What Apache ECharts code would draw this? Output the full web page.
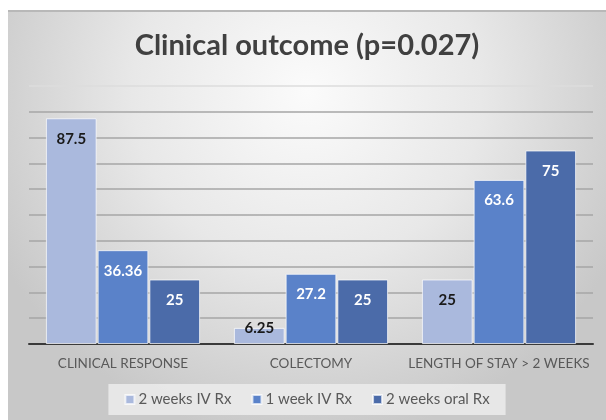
<!DOCTYPE html>
<html>
<head>
<meta charset="utf-8">
<script src="https://cdn.jsdelivr.net/npm/echarts@6/dist/echarts.min.js"></script>
<style>
  html, body { margin: 0; padding: 0; background: #ffffff; }
  #main { position: absolute; left: 8px; top: 10px; width: 598px; height: 410px; }
</style>
</head>
<body>
<div id="main"></div>
<script>
// data
const categories = ['CLINICAL RESPONSE', 'COLECTOMY', 'LENGTH OF STAY > 2 WEEKS'];
const twoWeeksIV = [87.5, 6.25, 25];
const oneWeekIV = [36.36, 27.2, 63.6];
const twoWeeksOral = [25, 25, 75];
const seriesNames = ['2 weeks IV Rx', '1 week IV Rx', '2 weeks oral Rx'];

const colors = ['#aab9dd', '#5a82c9', '#4b6ba9'];
const labelColors = ['#1a1a1a', '#ffffff', '#ffffff'];
const fontFamily = 'Lato, "DejaVu Sans", sans-serif';

var chartDom = document.getElementById('main');
var myChart = echarts.init(chartDom);

function makeSeries(name, data, i) {
  return {
    name: name,
    type: 'bar',
    // short bars get their label sitting on the top edge
    data: data.map((v) =>
      v < 10 ? { value: v, label: { position: 'top', distance: -8 } } : v,
    ),
    barGap: '2%',
    barCategoryGap: '18%',
    itemStyle: {
      color: colors[i],
      borderColor: 'rgba(255,255,255,0.7)',
      borderWidth: 1,
    },
    label: {
      show: true,
      position: 'insideTop',
      distance: 13,
      color: labelColors[i],
      fontFamily: fontFamily,
      fontWeight: 'bold',
      fontSize: 15,
    },
  };
}

// top grid line (100) is much fainter in the original
const gridColors = [];
for (let k = 0; k < 10; k++) gridColors.push('#a6a6a6');
gridColors.push('#dcdcdc');

var option = {
  backgroundColor: {
    type: 'radial',
    x: 0.5,
    y: 0.2,
    r: 0.85,
    colorStops: [
      { offset: 0, color: '#fbfbfb' },
      { offset: 0.5, color: '#e8e8e8' },
      { offset: 1, color: '#c8c8c8' },
    ],
  },
  color: colors,
  animation: false,
  title: {
    text: 'Clinical outcome (p=0.027)',
    left: 'center',
    top: 16,
    textStyle: {
      fontFamily: fontFamily,
      fontWeight: 'bold',
      fontSize: 29,
      color: '#404040',
    },
  },
  graphic: [
    {
      type: 'rect',
      shape: { x: 0, y: 0, width: 598, height: 2 },
      style: { fill: '#b8b8b8' },
    },
  ],
  legend: {
    data: seriesNames,
    bottom: 5,
    left: 'center',
    itemWidth: 9,
    itemHeight: 9,
    itemGap: 20,
    icon: 'rect',
    padding: [8, 16],
    backgroundColor: 'rgba(236,236,236,0.85)',
    textStyle: {
      fontFamily: fontFamily,
      fontSize: 15,
      color: '#595959',
      padding: [0, 0, 0, -1],
    },
  },
  grid: {
    left: 21,
    right: 13,
    top: 76,
    bottom: 76,
  },
  xAxis: {
    type: 'category',
    data: categories,
    axisLine: {
      show: true,
      lineStyle: { color: '#3a3a3a', width: 2 },
    },
    axisTick: { show: false },
    axisLabel: {
      interval: 0,
      margin: 13,
      fontFamily: fontFamily,
      fontSize: 13.5,
      color: '#595959',
    },
  },
  yAxis: {
    type: 'value',
    min: 0,
    max: 100,
    interval: 10,
    axisLabel: { show: false },
    axisLine: { show: false },
    axisTick: { show: false },
    splitLine: {
      show: true,
      lineStyle: { color: gridColors, width: 1.5 },
    },
  },
  series: [
    makeSeries(seriesNames[0], twoWeeksIV, 0),
    makeSeries(seriesNames[1], oneWeekIV, 1),
    makeSeries(seriesNames[2], twoWeeksOral, 2),
  ],
};

option && myChart.setOption(option);
</script>
</body>
</html>
